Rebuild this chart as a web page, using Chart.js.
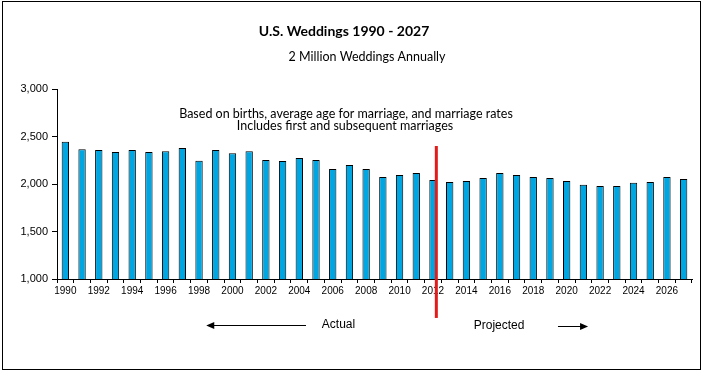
<!DOCTYPE html>
<html lang="en">
<head>
  <meta charset="UTF-8">
  <title>U.S. Weddings 1990 - 2027</title>
  <script src="https://cdn.jsdelivr.net/npm/chart.js@4.4.1/dist/chart.umd.min.js"></script>
  <style>
    html, body { margin: 0; padding: 0; background: #fff; }
    .wrap { position: relative; width: 703px; height: 372px; }
  </style>
</head>
<body>
  <div class="wrap"><canvas id="weddingsChart"></canvas></div>

  <script>
    // weddings per year, thousands
    const years = [
      "1990", "1991", "1992", "1993", "1994", "1995", "1996", "1997", "1998", "1999",
      "2000", "2001", "2002", "2003", "2004", "2005", "2006", "2007", "2008", "2009",
      "2010", "2011", "2012", "2013", "2014", "2015", "2016", "2017", "2018", "2019",
      "2020", "2021", "2022", "2023", "2024", "2025", "2026", "2027"
    ];
    const weddings = [
      2444, 2367, 2357, 2336, 2357, 2336, 2346, 2378, 2245, 2357,
      2325, 2346, 2252, 2242, 2273, 2252, 2158, 2200, 2158, 2074,
      2095, 2116, 2043, 2022, 2032, 2064, 2116, 2095, 2074, 2064,
      2032, 1991, 1980, 1980, 2012, 2022, 2074, 2053
    ];
    const yTicks = [1000, 1500, 2000, 2500, 3000];
    const lastActualYear = "2012";

    const titleText = "U.S. Weddings 1990 - 2027";
    const subtitleText = "2 Million Weddings Annually";
    const noteLines = [
      "Based on births, average age for marriage, and marriage rates",
      "Includes first and subsequent marriages"
    ];

    const CALIBRI = "Lato, 'Open Sans', sans-serif";
    const ARIAL = "'Liberation Sans', Arial, sans-serif";

    function arrow(ctx, x1, x2, y) {
      // line from x1 to x2 with head at x2
      const dir = x2 > x1 ? 1 : -1;
      ctx.beginPath();
      ctx.moveTo(x1, y);
      ctx.lineTo(x2 - dir * 6, y);
      ctx.stroke();
      ctx.beginPath();
      ctx.moveTo(x2, y);
      ctx.lineTo(x2 - dir * 8, y - 3.5);
      ctx.lineTo(x2 - dir * 8, y + 3.5);
      ctx.closePath();
      ctx.fill();
    }

    const decorations = {
      id: "decorations",
      afterDraw(chart) {
        const ctx = chart.ctx;
        const x = chart.scales.x;
        const y = chart.scales.y;
        ctx.save();

        // outer frame
        ctx.strokeStyle = "#000";
        ctx.lineWidth = 1;
        ctx.strokeRect(2.5, 1.5, 698, 368);

        ctx.fillStyle = "#000";
        ctx.textBaseline = "middle";
        ctx.textAlign = "center";
        ctx.font = "bold 14px " + CALIBRI;
        ctx.fillText(titleText, 344, 31);
        ctx.font = "12.5px " + CALIBRI;
        ctx.fillText(subtitleText, 367, 57);
        ctx.fillText(noteLines[0], 346, 114);
        ctx.fillText(noteLines[1], 345, 126);

        // divider between actual and projected
        const idx = years.indexOf(lastActualYear);
        const xr = x.getPixelForValue(idx + 0.2);
        ctx.strokeStyle = "#E31B1B";
        ctx.lineWidth = 3;
        ctx.beginPath();
        ctx.moveTo(xr, y.getPixelForValue(2400));
        ctx.lineTo(xr, y.getPixelForValue(590));
        ctx.stroke();

        // actual / projected labels
        ctx.font = "12px " + ARIAL;
        ctx.fillStyle = "#000";
        ctx.strokeStyle = "#000";
        ctx.lineWidth = 1;
        ctx.textAlign = "left";
        ctx.fillText("Actual", x.getPixelForValue(15.35), 325);
        ctx.fillText("Projected", x.getPixelForValue(24.44), 326);
        arrow(ctx, x.getPixelForValue(14.4), x.getPixelForValue(8.43), 325.5);
        arrow(ctx, x.getPixelForValue(29.48), x.getPixelForValue(31.28), 326.5);

        ctx.restore();
      }
    };

    new Chart(document.getElementById("weddingsChart"), {
      type: "bar",
      data: {
        labels: years,
        datasets: [{
          label: "Weddings",
          data: weddings,
          backgroundColor: "#00A6E2",
          borderColor: "#000",
          borderWidth: 1,
          barPercentage: 0.44,
          categoryPercentage: 1.0,
        }]
      },
      options: {
        responsive: true,
        maintainAspectRatio: false,
        animation: false,
        layout: { padding: { top: 89, right: 11, left: 0, bottom: 0 } },
        plugins: {
          legend: { display: false },
          tooltip: { enabled: false },
        },
        scales: {
          x: {
            offset: true,
            afterFit: (s) => { s.height = 93; },
            grid: {
              offset: true,
              drawOnChartArea: false,
              drawTicks: true,
              tickLength: 4,
              color: "#000",
            },
            border: { color: "#000", width: 1 },
            ticks: {
              autoSkip: false,
              maxRotation: 0,
              padding: 2,
              color: "#000",
              font: { family: ARIAL, size: 10 },
              callback: (v, i) => (i % 2 === 0 ? years[i] : ""),
            },
          },
          y: {
            min: yTicks[0],
            max: yTicks[yTicks.length - 1],
            afterFit: (s) => { s.width = 57; },
            afterBuildTicks: (s) => { s.ticks = yTicks.map(v => ({ value: v })); },
            grid: {
              drawOnChartArea: false,
              drawTicks: true,
              tickLength: 5,
              color: "#000",
            },
            border: { color: "#000", width: 1 },
            ticks: {
              padding: 4,
              color: "#000",
              font: { family: ARIAL, size: 11 },
              callback: (v) => v.toLocaleString("en-US"),
            },
          },
        },
      },
      plugins: [decorations],
    });
  </script>
</body>
</html>
